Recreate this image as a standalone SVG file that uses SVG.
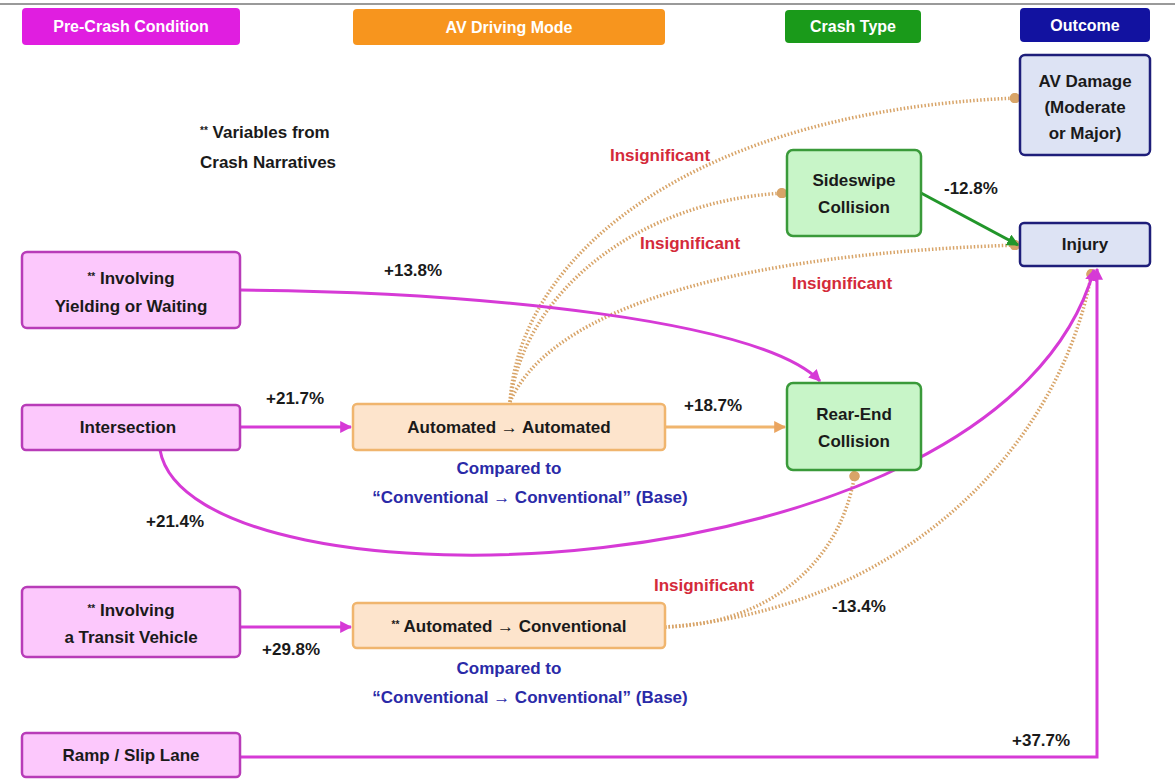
<svg xmlns="http://www.w3.org/2000/svg" width="1175" height="780" viewBox="0 0 1175 780">
<defs>
<style>
text{font-family:"Liberation Sans",Arial,sans-serif;font-weight:bold;}
.hd{fill:#ffffff;font-size:16px;text-anchor:middle;}
.nt{fill:#1a1a1a;font-size:17px;text-anchor:middle;}
.lbl{fill:#1a1a1a;font-size:17px;}
.ins{fill:#d42a3a;font-size:17px;text-anchor:middle;}
.cmp{fill:#2a2aa8;font-size:17px;text-anchor:middle;}
.pink{fill:#fcc8fc;stroke:#b83cb8;stroke-width:2.5;}
.orng{fill:#fde4cc;stroke:#f0b56e;stroke-width:2.5;}
.grn{fill:#c8f5c8;stroke:#3a9a3a;stroke-width:2.5;}
.blu{fill:#dde3f4;stroke:#1e1e7a;stroke-width:2.5;}
.mag{fill:none;stroke:#d63ad6;stroke-width:3;}
.org{fill:none;stroke:#f0b56e;stroke-width:3;}
.gl{fill:none;stroke:#22962a;stroke-width:3;}
.dot{fill:none;stroke:#d8a468;stroke-width:3.5;stroke-dasharray:1.5 2;}
</style>
<marker id="am" viewBox="0 0 10 10" refX="9" refY="5" markerWidth="4" markerHeight="4" orient="auto"><path d="M0,0 L10,5 L0,10 z" fill="#d63ad6"/></marker>
<marker id="ao" viewBox="0 0 10 10" refX="9" refY="5" markerWidth="4" markerHeight="4" orient="auto"><path d="M0,0 L10,5 L0,10 z" fill="#eaa560"/></marker>
<marker id="ag" viewBox="0 0 10 10" refX="9" refY="5" markerWidth="4" markerHeight="4" orient="auto"><path d="M0,0 L10,5 L0,10 z" fill="#22962a"/></marker>
<marker id="ad" viewBox="0 0 10 10" refX="8" refY="5" markerWidth="3" markerHeight="3" orient="auto"><circle cx="5" cy="5" r="5" fill="#d8a468"/></marker>
</defs>
<rect width="1175" height="780" fill="#ffffff"/>
<line x1="0" y1="4" x2="1175" y2="4" stroke="#9a9a9a" stroke-width="2"/>

<g id="headers">
<rect x="22" y="8" width="218" height="37" rx="4" fill="#e01ee0"/>
<text class="hd" x="131" y="32">Pre-Crash Condition</text>
<rect x="353" y="9" width="312" height="36" rx="4" fill="#f7951e"/>
<text class="hd" x="509" y="33">AV Driving Mode</text>
<rect x="785" y="10" width="136" height="33" rx="4" fill="#1a9a1a"/>
<text class="hd" x="853" y="32">Crash Type</text>
<rect x="1020" y="8" width="130" height="34" rx="4" fill="#1212a0"/>
<text class="hd" x="1085" y="31">Outcome</text>
</g>

<g id="note">
<text class="lbl" x="200" y="138" font-size="16"><tspan font-size="10" dy="-4">**</tspan><tspan dy="4"> Variables from</tspan></text>
<text class="lbl" x="200" y="168" font-size="16">Crash Narratives</text>
</g>

<g id="connectors">
<path class="dot" d="M510,402 C520,250 700,110 1018,98" marker-end="url(#ad)"/>
<path class="dot" d="M510,402 C525,290 640,200 785,193" marker-end="url(#ad)"/>
<path class="dot" d="M510,402 C545,320 700,255 1018,245" marker-end="url(#ad)"/>
<path class="dot" d="M665,627 C760,625 840,570 855,473" marker-end="url(#ad)"/>
<path class="dot" d="M665,627 C900,610 1060,450 1092,271" marker-end="url(#ad)"/>
<path class="mag" d="M240,290 C480,292 760,320 820,381" marker-end="url(#am)"/>
<path class="mag" d="M240,427 H351" marker-end="url(#am)"/>
<path class="mag" d="M160,450 C190,620 1000,600 1094,270" marker-end="url(#am)"/>
<path class="mag" d="M240,627 H351" marker-end="url(#am)"/>
<path class="mag" d="M240,757 H1097 V269" marker-end="url(#am)"/>
<path class="org" d="M665,427 H785" marker-end="url(#ao)"/>
<path class="gl" d="M921,193 L1018,245" marker-end="url(#ag)"/>
</g>

<g id="labels">
<text class="ins" x="660" y="161">Insignificant</text>
<text class="ins" x="690" y="249">Insignificant</text>
<text class="ins" x="842" y="289">Insignificant</text>
<text class="ins" x="704" y="591">Insignificant</text>
<text class="lbl" x="384" y="276">+13.8%</text>
<text class="lbl" x="266" y="404">+21.7%</text>
<text class="lbl" x="684" y="411">+18.7%</text>
<text class="lbl" x="146" y="527">+21.4%</text>
<text class="lbl" x="832" y="612">-13.4%</text>
<text class="lbl" x="262" y="655">+29.8%</text>
<text class="lbl" x="944" y="194">-12.8%</text>
<text class="lbl" x="1012" y="746">+37.7%</text>
<text class="cmp" x="509" y="474">Compared to</text>
<text class="cmp" x="530" y="503">“Conventional → Conventional” (Base)</text>
<text class="cmp" x="509" y="674">Compared to</text>
<text class="cmp" x="530" y="703">“Conventional → Conventional” (Base)</text>
</g>

<g id="n-yielding">
<rect class="pink" x="22" y="252" width="218" height="76" rx="5"/>
<text class="nt" x="131" y="284"><tspan font-size="10" dy="-4">**</tspan><tspan dy="4"> Involving</tspan></text>
<text class="nt" x="131" y="312">Yielding or Waiting</text>
</g>
<g id="n-intersection">
<rect class="pink" x="22" y="405" width="218" height="45" rx="4"/>
<text class="nt" x="128" y="433">Intersection</text>
</g>
<g id="n-transit">
<rect class="pink" x="22" y="587" width="218" height="70" rx="5"/>
<text class="nt" x="131" y="616"><tspan font-size="10" dy="-4">**</tspan><tspan dy="4"> Involving</tspan></text>
<text class="nt" x="131" y="643">a Transit Vehicle</text>
</g>
<g id="n-ramp">
<rect class="pink" x="22" y="733" width="218" height="44" rx="4"/>
<text class="nt" x="131" y="761">Ramp / Slip Lane</text>
</g>
<g id="n-aa">
<rect class="orng" x="353" y="404" width="312" height="46" rx="4"/>
<text class="nt" x="509" y="433">Automated → Automated</text>
</g>
<g id="n-ac">
<rect class="orng" x="353" y="603" width="312" height="45" rx="4"/>
<text class="nt" x="509" y="632"><tspan font-size="10" dy="-4">**</tspan><tspan dy="4"> Automated → Conventional</tspan></text>
</g>
<g id="n-sideswipe">
<rect class="grn" x="787" y="150" width="134" height="86" rx="6"/>
<text class="nt" x="854" y="186">Sideswipe</text>
<text class="nt" x="854" y="213">Collision</text>
</g>
<g id="n-rearend">
<rect class="grn" x="787" y="383" width="134" height="87" rx="6"/>
<text class="nt" x="854" y="420">Rear-End</text>
<text class="nt" x="854" y="447">Collision</text>
</g>
<g id="n-avdamage">
<rect class="blu" x="1020" y="55" width="130" height="100" rx="5"/>
<text class="nt" x="1085" y="87">AV Damage</text>
<text class="nt" x="1085" y="113">(Moderate</text>
<text class="nt" x="1085" y="139">or Major)</text>
</g>
<g id="n-injury">
<rect class="blu" x="1020" y="223" width="130" height="43" rx="4"/>
<text class="nt" x="1085" y="250">Injury</text>
</g>
</svg>
